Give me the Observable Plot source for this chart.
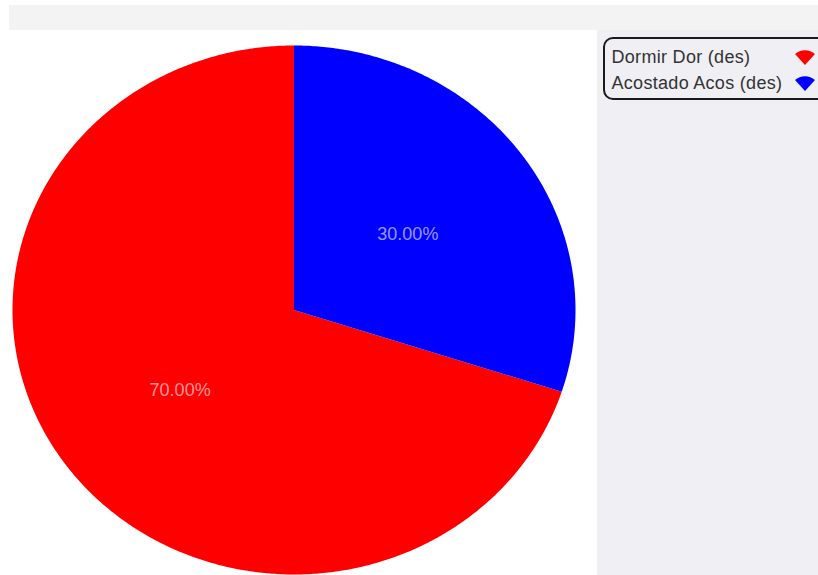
<!DOCTYPE html>
<html><head><meta charset="utf-8">
<script src="https://cdn.jsdelivr.net/npm/d3@7"></script>
<script src="https://cdn.jsdelivr.net/npm/@observablehq/plot@0.6"></script>
<style>
body{margin:0;background:#fff;width:818px;height:575px;overflow:hidden;position:relative;font-family:"Liberation Sans",Arial,sans-serif;}
#band{position:absolute;left:9px;top:5px;width:809px;height:25px;background:#f3f3f3}
#panel{position:absolute;left:597px;top:30px;width:221px;height:545px;background:#efeff4}
#chart{position:absolute;left:0;top:0}
#legend{position:absolute;left:603px;top:37px;width:240px;height:63px;border:2px solid #1a1a1a;border-radius:10px;box-sizing:border-box;padding:4.5px 0 0 6.5px}
.row{position:relative;height:26px;line-height:26px;font-size:18px;color:#333;white-space:nowrap;letter-spacing:0.3px}
.row svg{position:absolute;left:182px;top:6px}
</style>
</head><body>
<div id="band"></div>
<div id="panel"></div>
<div id="chart"></div>
<div id="legend"></div>
<script>
const categories = ["Dormir Dor (des)", "Acostado Acos (des)"];
const values = [70, 30];
const colors = ["#ff0000", "#0000ff"];
const labels = ["70.00%", "30.00%"];

const total = d3.sum(values);
let acc = 0;
const slices = categories.map((c, i) => {
  const a0 = acc / total * 2 * Math.PI;
  acc += values[i];
  const a1 = acc / total * 2 * Math.PI;
  const pts = [{x: 0, y: 0}];
  const n = Math.max(2, Math.ceil((a1 - a0) / (Math.PI / 360)));
  for (let k = 0; k <= n; k++) {
    const a = a0 + (a1 - a0) * k / n;
    pts.push({x: -Math.sin(a), y: Math.cos(a)});
  }
  pts.push({x: 0, y: 0});
  const am = (a0 + a1) / 2;
  return {cat: c, color: colors[i], pts, label: labels[i], lx: -0.5 * Math.sin(am), ly: 0.5 * Math.cos(am)};
});

const chart = Plot.plot({
  width: 818, height: 575, margin: 0,
  style: {background: "transparent"},
  x: {domain: [-1, 1], range: [12, 575]},
  y: {domain: [-1, 1], range: [574, 45]},
  axis: null,
  marks: [
    ...slices.map(s => Plot.line(s.pts, {x: "x", y: "y", fill: s.color, stroke: "none"})),
    Plot.text(slices, {x: "lx", y: "ly", text: "label", fill: "white", fillOpacity: 0.6, fontSize: 18, fontFamily: "Liberation Sans, Arial, sans-serif", dy: 2})
  ]
});
document.getElementById("chart").appendChild(chart);

const leg = document.getElementById("legend");
categories.forEach((c, i) => {
  const row = document.createElement("div");
  row.className = "row";
  row.textContent = c;
  row.insertAdjacentHTML("beforeend",
    `<svg width="22" height="16" viewBox="0 0 22 16"><path d="M11 15 L1 4 A15 15 0 0 1 21 4 Z" fill="${colors[i]}"/></svg>`);
  leg.appendChild(row);
});
</script>
</body></html>
